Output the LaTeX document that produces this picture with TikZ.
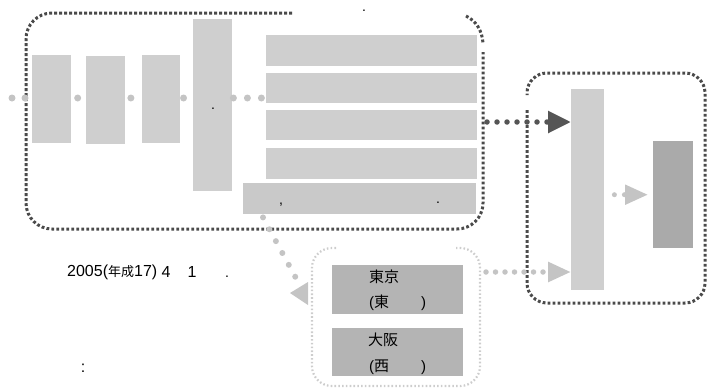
\documentclass[tikz,border=0pt]{standalone}
\usepackage{fontspec}
\setmainfont{Liberation Sans}
\newfontfamily\cjk{Noto Sans CJK JP}
\usetikzlibrary{arrows.meta}
\definecolor{bordark}{HTML}{4A4A4A}
\definecolor{arrdark}{HTML}{555555}
\definecolor{borlight}{HTML}{CDCDCD}
\definecolor{boxa}{HTML}{CFCFCF}
\definecolor{boxb}{HTML}{C9C9C9}
\definecolor{boxc}{HTML}{B4B4B4}
\definecolor{boxd}{HTML}{AAAAAA}
\definecolor{dotc}{HTML}{C4C4C4}
\begin{document}
\begin{tikzpicture}[x=1pt,y=-1pt,
  blk/.style={fill=#1, draw=none, inner sep=0pt, anchor=north west},
  darkborder/.style={draw=bordark, line width=3pt, dash pattern=on 2.8pt off 2.2pt, rounded corners=#1},
  lightborder/.style={draw=borlight, line width=2.2pt, dash pattern=on 1.6pt off 2.2pt, rounded corners=#1},
  dotnode/.style={circle, fill=dotc, inner sep=0pt, minimum size=7pt},
  lightdots/.style={draw=dotc, line width=#1, line cap=round, dash pattern=on 0pt off 12.5pt},
  txt/.style={inner sep=0pt, anchor=west, font=\fontsize{15pt}{17pt}\selectfont},
  smalltxt/.style={inner sep=0pt, font=\fontsize{14pt}{16pt}\selectfont}
]
\useasboundingbox (0,0) rectangle (708,388);

% ---- left big group ----
\node[blk=boxa, minimum width=39pt, minimum height=88pt] (s1) at (32,55) {};
\node[blk=boxa, minimum width=39pt, minimum height=88pt] (s2) at (86,56) {};
\node[blk=boxa, minimum width=38pt, minimum height=88pt] (s3) at (142,55) {};
\node[blk=boxa, minimum width=39pt, minimum height=172pt] (tb) at (193,19) {};
\node[blk=boxa, minimum width=211pt, minimum height=31pt] (k1) at (266,35) {};
\node[blk=boxa, minimum width=211pt, minimum height=30pt] (k2) at (266,73) {};
\node[blk=boxa, minimum width=211pt, minimum height=30pt] (k3) at (266,110) {};
\node[blk=boxa, minimum width=211pt, minimum height=31pt] (k4) at (266,148) {};
\node[blk=boxb, minimum width=233pt, minimum height=31pt] (wb) at (243,183) {};

% big dotted frame
\draw[darkborder=26pt] (292,13) -| (26,229) -| (483,52);
\draw[darkborder=0pt] (466,16) .. controls (476,21) and (482,30) .. (483,43);

% input dots and dots between blocks
\coordinate (inp) at (12,98);
\draw[lightdots=7pt, dash pattern=on 0pt off 13pt] (inp) -- (s1.west |- inp);
\path (s1.east |- inp) -- (s2.west |- inp) node[dotnode, pos=0.43] (d1) {};
\path (s2.east |- inp) -- (s3.west |- inp) node[dotnode, pos=0.33] (d2) {};
\path (s3.east |- inp) -- (tb.west |- inp) node[dotnode, pos=0.25] (d3) {};
\draw[lightdots=7pt, dash pattern=on 0pt off 14pt, dash phase=-1pt] (tb.east |- inp) -- (k2.west |- inp);

% ---- right group ----
\node[blk=boxa, minimum width=33pt, minimum height=201pt] (rt) at (571,89) {};
\node[blk=boxd, minimum width=40pt, minimum height=107pt] (dk) at (653,141) {};
\draw[darkborder=20pt] (527,110) |- (705,303) |- (527,73) -- (527,95);

% dark arrow into right group
\coordinate (bbr) at (487,122);
\draw[draw=arrdark, line width=5.5pt, line cap=round, dash pattern=on 0pt off 10pt,
  -{Triangle[length=23pt,width=21pt,fill=arrdark]}] (bbr) -- (rt.west |- bbr);

% small arrow inside right group
\draw[draw=dotc, line width=5pt, line cap=round, dash pattern=on 0pt off 10pt,
  shorten <=10pt, shorten >=5pt,
  -{Triangle[length=23pt,width=19pt,fill=dotc]}] (rt.east |- dk.west) -- (dk.west);

% ---- lower group ----
\node[blk=boxc, minimum width=131pt, minimum height=49pt] (tk) at (332,265) {};
\node[blk=boxc, minimum width=131pt, minimum height=48pt] (os) at (332,328) {};
\draw[lightborder=20pt] (336,248) -| (312,386) -| (480,248) -- (456,248);

% lower arrow into right group
\coordinate (la) at (486,272);
\draw[draw=dotc, line width=5.5pt, line cap=round, dash pattern=on 0pt off 9.5pt,
  -{Triangle[length=23pt,width=19pt,fill=dotc]}] (la) -- (rt.west |- la);

% diagonal dotted connector from wide box
\coordinate (tri) at (297,280);
\draw[lightdots=6pt, dash pattern=on 0pt off 13.5pt] ([xshift=20pt,yshift=-3pt]wb.south west) -- (tri);
\fill[dotc] (290,293) -- (308,282) -- (308,305) -- cycle;

% ---- texts ----
\node[txt] (t1a) at (369,277) {\cjk 東京};
\node[txt] (t1b) at (369,303) {(\cjk 東\hspace{32pt}\rmfamily)};
\node[txt] (t2a) at (368,340) {\cjk 大阪};
\node[txt] (t2b) at (369,367) {(\cjk 西\hspace{32pt}\rmfamily)};

\node[inner sep=0pt, anchor=west, font=\fontsize{16pt}{18pt}\selectfont] (yr) at (67,272)
  {2005({\fontsize{13pt}{15pt}\selectfont\cjk 年成}17)};
\node[smalltxt, font=\fontsize{16pt}{18pt}\selectfont] (n4) at (166,272) {4};
\node[smalltxt, font=\fontsize{16pt}{18pt}\selectfont] (n1) at (192,272) {1};
\node[smalltxt, anchor=base] (p1) at (227,277) {.};
\node[smalltxt, font=\fontsize{16pt}{18pt}\selectfont] (colon) at (83,368) {:};

\node[smalltxt, anchor=base] (p2) at (364,12) {.};
\node[smalltxt, anchor=base] (p3) at (213,109) {.};
\node[smalltxt, anchor=base] (c1) at (281,204) {,};
\node[smalltxt, anchor=base] (p4) at (438,203) {.};
\end{tikzpicture}
\end{document}
